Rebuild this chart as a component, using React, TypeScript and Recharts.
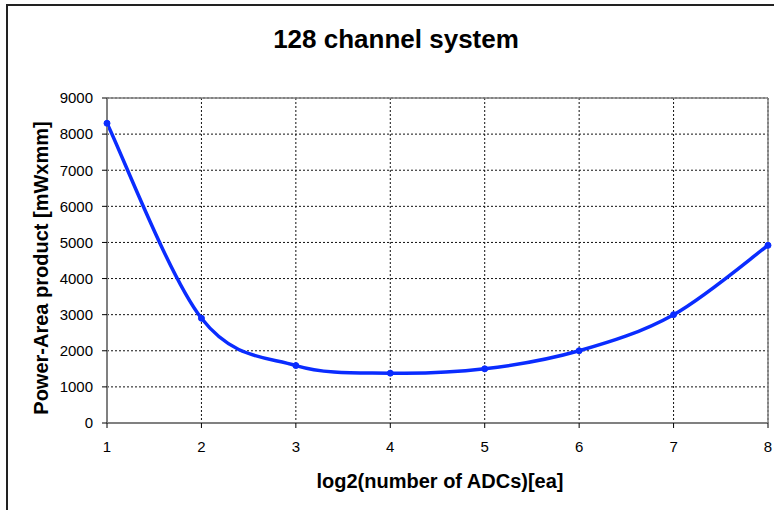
import { LineChart, Line, XAxis, YAxis, CartesianGrid, ReferenceLine } from "recharts";

// log2(number of ADCs)
const adcLog2 = [1, 2, 3, 4, 5, 6, 7, 8];
// power-area product [mW x mm]
const powerArea = [8300, 2900, 1590, 1380, 1500, 2000, 3000, 4920];
const yTicks = [0, 1000, 2000, 3000, 4000, 5000, 6000, 7000, 8000, 9000];
const xTicks = [1, 2, 3, 4, 5, 6, 7, 8];

const data = adcLog2.map((x, i) => ({ x, value: powerArea[i] }));

const font = '"Liberation Sans", Arial, sans-serif';
const blue = "#0a2cff";
const axisGray = "#808080";

// spreadsheet-style smoothed line (catmull-rom through the points)
const smoothCurve = (context: any) => {
  let pts: number[][] = [];
  return {
    areaStart() {},
    areaEnd() {},
    lineStart() {
      pts = [];
    },
    point(x: number, y: number) {
      pts.push([+x, +y]);
    },
    lineEnd() {
      if (!pts.length) return;
      context.moveTo(pts[0][0], pts[0][1]);
      for (let i = 0; i < pts.length - 1; i++) {
        const p0 = pts[i - 1] || pts[i];
        const p1 = pts[i];
        const p2 = pts[i + 1];
        const p3 = pts[i + 2] || pts[i + 1];
        context.bezierCurveTo(
          p1[0] + (p2[0] - p0[0]) / 6,
          p1[1] + (p2[1] - p0[1]) / 6,
          p2[0] - (p3[0] - p1[0]) / 6,
          p2[1] - (p3[1] - p1[1]) / 6,
          p2[0],
          p2[1]
        );
      }
    },
  };
};

export default function App() {
  return (
    <div style={{ position: "absolute", left: 0, top: 0, width: 774, height: 510, background: "#fff", overflow: "hidden", fontFamily: font }}>
      {/* outer chart frame, runs off the right/bottom edge like the screenshot */}
      <div style={{ position: "absolute", left: 6, top: 4, width: 800, height: 540, border: "2px solid #222" }} />
      <LineChart width={774} height={510} data={data} margin={{ top: 98, right: 6, bottom: 57, left: 0 }} style={{ position: "absolute", left: 0, top: 0 }}>
        <CartesianGrid stroke="#111" strokeDasharray="2 2" />
        <XAxis
          dataKey="x"
          type="number"
          domain={[1, 8]}
          ticks={xTicks}
          height={30}
          tickSize={5}
          tickMargin={13}
          tick={{ fontSize: 15, fill: "#000", fontFamily: font }}
          axisLine={{ stroke: axisGray, strokeWidth: 2 }}
          tickLine={{ stroke: "#000" }}
        />
        <YAxis
          type="number"
          domain={[0, 9000]}
          ticks={yTicks}
          width={107}
          tickSize={5}
          tickMargin={9}
          tick={{ fontSize: 15, fill: "#000", fontFamily: font }}
          axisLine={{ stroke: axisGray, strokeWidth: 2 }}
          tickLine={{ stroke: "#000" }}
        />
        <ReferenceLine y={9000} stroke={axisGray} strokeWidth={1.5} />
        <ReferenceLine x={8} stroke={axisGray} strokeWidth={1.5} />
        <Line
          type={smoothCurve as any}
          dataKey="value"
          stroke={blue}
          strokeWidth={3.5}
          dot={{ r: 3, fill: blue, stroke: blue, strokeWidth: 1 }}
          activeDot={false}
          isAnimationActive={false}
        />
      </LineChart>
      <svg width={774} height={510} style={{ position: "absolute", left: 0, top: 0, pointerEvents: "none" }}>
        <text x={396} y={48} textAnchor="middle" fontFamily={font} fontWeight="bold" fontSize={26} fill="#000">
          128 channel system
        </text>
        <text x={440} y={488} textAnchor="middle" fontFamily={font} fontWeight="bold" fontSize={20} fill="#000">
          log2(number of ADCs)[ea]
        </text>
        <text x={48} y={268} transform="rotate(-90, 48, 268)" textAnchor="middle" fontFamily={font} fontWeight="bold" fontSize={20} fill="#000">
          Power-Area product [mWxmm]
        </text>
      </svg>
    </div>
  );
}
